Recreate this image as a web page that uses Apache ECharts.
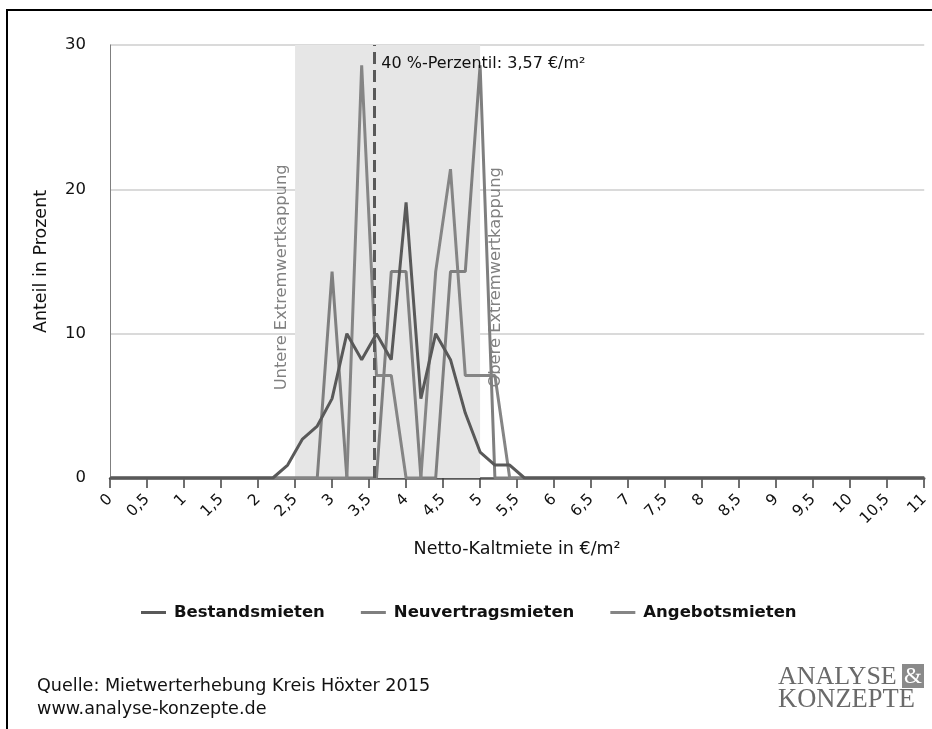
<!DOCTYPE html>
<html><head><meta charset="utf-8">
<script src="https://cdn.jsdelivr.net/npm/echarts@6/dist/echarts.min.js"></script>
<style>html,body{margin:0;padding:0;background:#fff}#c{width:932px;height:729px}</style>
</head><body><div id="c"></div>
<script>
// ---- data ----
const seriesNames = ['Bestandsmieten', 'Neuvertragsmieten', 'Angebotsmieten'];
const bestandX = [0, 2.2, 2.4, 2.6, 2.8, 3.0, 3.2, 3.4, 3.6, 3.8, 4.0, 4.2, 4.4, 4.6, 4.8, 5.0, 5.2, 5.4, 5.6, 11];
const bestandY = [0, 0, 0.9, 2.7, 3.6, 5.5, 10.0, 8.2, 10.0, 8.2, 19.1, 5.5, 10.0, 8.2, 4.5, 1.8, 0.9, 0.9, 0, 0];
const neuX = [0, 2.8, 3.0, 3.2, 3.6, 3.8, 4.0, 4.2, 4.4, 4.6, 4.8, 5.0, 5.2, 11];
const neuY = [0, 0, 14.3, 0, 0, 14.3, 14.3, 0, 0, 14.3, 14.3, 28.6, 0, 0];
const angX = [0, 3.2, 3.4, 3.6, 3.8, 4.0, 4.2, 4.4, 4.6, 4.8, 5.0, 5.2, 5.4, 11];
const angY = [0, 0, 28.6, 7.1, 7.1, 0, 0, 14.3, 21.4, 7.1, 7.1, 7.1, 0, 0];
const xMin = 0, xMax = 11, xStep = 0.5;
const yMin = 0, yMax = 30, yStep = 10;
const bandRange = [2.5, 5.0];
const percentileValue = 3.57;
const percentileLabel = '40 %-Perzentil: 3,57 €/m²';
const lowerCapLabel = 'Untere Extremwertkappung';
const upperCapLabel = 'Obere Extremwertkappung';
const xAxisName = 'Netto-Kaltmiete in €/m²';
const yAxisName = 'Anteil in Prozent';
const sourceLines = ['Quelle: Mietwerterhebung Kreis Höxter 2015', 'www.analyse-konzepte.de'];

const FONT = 'DejaVu Sans';
const zip = (xs, ys) => xs.map((x, i) => [x, ys[i]]);
const colors = ['#595959', '#7f7f7f', '#858585'];

const chart = echarts.init(document.getElementById('c'), null, {renderer: 'canvas'});
const option = {
  animation: false,
  backgroundColor: '#fff',
  textStyle: {fontFamily: FONT},
  grid: {left: 110, right: 5, top: 45, bottom: 251, containLabel: false},
  legend: {
    data: seriesNames,
    top: 599, left: 136,
    icon: 'rect', itemWidth: 25, itemHeight: 3, itemGap: 36,
    textStyle: {fontFamily: FONT, fontSize: 16.5, fontWeight: 'bold', color: '#111', padding: [0, 0, 0, 3]}
  },
  xAxis: {
    type: 'value', min: xMin, max: xMax, interval: xStep,
    name: xAxisName, nameLocation: 'middle', nameGap: 62,
    nameTextStyle: {fontFamily: FONT, fontSize: 17.5, color: '#111'},
    axisLine: {show: true, onZero: false, lineStyle: {color: '#595959', width: 2.5}},
    axisTick: {show: true, length: 10, lineStyle: {color: '#404040', width: 1.5}},
    axisLabel: {rotate: 45, margin: 19, fontSize: 15.5, color: '#111', fontFamily: FONT,
      formatter: v => String(v).replace('.', ',')},
    splitLine: {show: false}
  },
  yAxis: {
    type: 'value', min: yMin, max: yMax, interval: yStep,
    name: yAxisName, nameLocation: 'middle', nameGap: 60, nameRotate: 90,
    nameTextStyle: {fontFamily: FONT, fontSize: 17.5, color: '#111'},
    axisLine: {show: true, lineStyle: {color: '#7f7f7f', width: 1}},
    axisTick: {show: false},
    axisLabel: {margin: 24, fontSize: 16.5, color: '#111', fontFamily: FONT},
    splitLine: {show: true, lineStyle: {color: '#dadada', width: 2}}
  },
  series: [
    {
      name: '__band', type: 'line', data: [], z: 1, silent: true,
      markArea: {silent: true, itemStyle: {color: '#e6e6e6'},
        data: [[{xAxis: bandRange[0]}, {xAxis: bandRange[1]}]]}
    },
    {name: seriesNames[1], type: 'line', data: zip(neuX, neuY), showSymbol: false, symbol: 'none', z: 3,
      lineStyle: {color: colors[1], width: 3}, itemStyle: {color: colors[1]}},
    {name: seriesNames[2], type: 'line', data: zip(angX, angY), showSymbol: false, symbol: 'none', z: 3,
      lineStyle: {color: colors[2], width: 3}, itemStyle: {color: colors[2]}},
    {name: seriesNames[0], type: 'line', data: zip(bestandX, bestandY), showSymbol: false, symbol: 'none', z: 4,
      lineStyle: {color: colors[0], width: 3}, itemStyle: {color: colors[0]},
      markLine: {silent: true, symbol: 'none', label: {show: false},
        lineStyle: {color: '#595959', width: 3, type: [12, 6]},
        data: [{xAxis: percentileValue}]}}
  ]
};
chart.setOption(option);

const px = (x, y) => chart.convertToPixel({gridIndex: 0}, [x, y]);
const pTop = px(percentileValue, 28.7);
const pLow = px(bandRange[0], 13.9);
const pUp = px(bandRange[1], 13.9);

chart.setOption({
  graphic: [
    {type: 'rect', silent: true, z: 100, shape: {x: 7, y: 10, width: 1000, height: 1000},
      style: {fill: 'none', stroke: '#000', lineWidth: 2}},
    {type: 'text', z: 50, x: pTop[0] + 7, y: pTop[1],
      style: {text: percentileLabel, font: '16px "DejaVu Sans"', fill: '#111', textVerticalAlign: 'middle', textAlign: 'left'}},
    {type: 'text', z: 50, x: pLow[0] - 13, y: pLow[1], rotation: Math.PI / 2,
      style: {text: lowerCapLabel, font: '16.3px "DejaVu Sans"', fill: '#808080', textVerticalAlign: 'middle', textAlign: 'center'}},
    {type: 'text', z: 50, x: pUp[0] + 16, y: pUp[1], rotation: Math.PI / 2,
      style: {text: upperCapLabel, font: '16.3px "DejaVu Sans"', fill: '#808080', textVerticalAlign: 'middle', textAlign: 'center'}},
    {type: 'text', z: 50, x: 37, y: 686,
      style: {text: sourceLines[0], font: '17.6px "DejaVu Sans"', fill: '#111', textVerticalAlign: 'middle'}},
    {type: 'text', z: 50, x: 37, y: 709,
      style: {text: sourceLines[1], font: '17.6px "DejaVu Sans"', fill: '#111', textVerticalAlign: 'middle'}},
    {type: 'text', z: 50, x: 778, y: 677,
      style: {text: 'ANALYSE', font: '26px "Liberation Serif"', fill: '#6a6a6a', textVerticalAlign: 'middle'}},
    {type: 'rect', z: 50, shape: {x: 902, y: 664, width: 22, height: 24}, style: {fill: '#8a8a8a'}},
    {type: 'text', z: 51, x: 913, y: 677,
      style: {text: '&', font: '23px "Liberation Serif"', fill: '#fff', textAlign: 'center', textVerticalAlign: 'middle'}},
    {type: 'text', z: 50, x: 778, y: 700,
      style: {text: 'KONZEPTE', font: '26.5px "Liberation Serif"', fill: '#6a6a6a', textVerticalAlign: 'middle'}}
  ]
});
</script></body></html>
